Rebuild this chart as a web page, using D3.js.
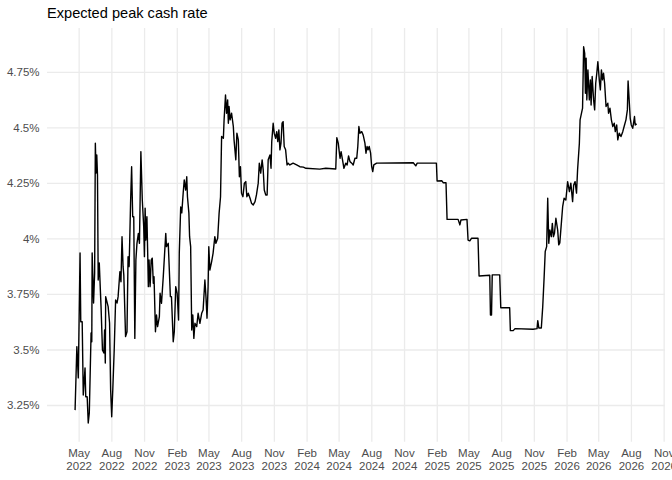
<!DOCTYPE html>
<html>
<head>
<meta charset="utf-8">
<script src="https://cdn.jsdelivr.net/npm/d3@7"></script>
<style>
    body { margin: 0; background: #fff; }
    svg { display: block; font-family: "Liberation Sans", Arial, sans-serif; }
</style>
</head>
<body>
<svg id="chart"></svg>
<script>
const title = "Expected peak cash rate";

const dates = [
    "2022-04-21","2022-04-26","2022-04-30","2022-05-05","2022-05-07","2022-05-11","2022-05-14","2022-05-19","2022-05-21","2022-05-25",
    "2022-05-28","2022-05-31","2022-06-05","2022-06-07","2022-06-08","2022-06-12","2022-06-15","2022-06-17","2022-06-19","2022-06-21",
    "2022-06-23","2022-06-25","2022-06-28","2022-07-03","2022-07-07","2022-07-11","2022-07-13","2022-07-15","2022-07-16","2022-07-23",
    "2022-07-27","2022-07-30","2022-08-02","2022-08-05","2022-08-09","2022-08-13","2022-08-17","2022-08-20","2022-08-25","2022-08-28",
    "2022-08-31","2022-09-03","2022-09-05","2022-09-10","2022-09-14","2022-09-17","2022-09-20","2022-09-24","2022-09-27","2022-09-30",
    "2022-10-03","2022-10-06","2022-10-09","2022-10-12","2022-10-16","2022-10-19","2022-10-23","2022-10-27","2022-10-31","2022-11-02",
    "2022-11-04","2022-11-06","2022-11-09","2022-11-11","2022-11-13","2022-11-15","2022-11-18","2022-11-21","2022-11-24","2022-11-27",
    "2022-11-29","2022-12-03","2022-12-06","2022-12-09","2022-12-14","2022-12-16","2022-12-20","2022-12-25","2023-01-01","2023-01-03",
    "2023-01-08","2023-01-14","2023-01-17","2023-01-22","2023-01-25","2023-01-29","2023-02-02","2023-02-06","2023-02-08","2023-02-12",
    "2023-02-15","2023-02-19","2023-02-22","2023-02-26","2023-03-01","2023-03-03","2023-03-07","2023-03-09","2023-03-12","2023-03-15",
    "2023-03-18","2023-03-21","2023-03-24","2023-03-29","2023-04-02","2023-04-07","2023-04-12","2023-04-16","2023-04-21","2023-04-24",
    "2023-04-27","2023-04-30","2023-05-02","2023-05-05","2023-05-10","2023-05-14","2023-05-19","2023-05-22","2023-05-27","2023-05-31",
    "2023-06-04","2023-06-07","2023-06-12","2023-06-14","2023-06-18","2023-06-21","2023-06-24","2023-06-26","2023-06-28","2023-07-01",
    "2023-07-05","2023-07-10","2023-07-12","2023-07-17","2023-07-20","2023-07-24","2023-07-27","2023-07-30","2023-08-02","2023-08-06",
    "2023-08-10","2023-08-14","2023-08-17","2023-08-21","2023-08-26","2023-08-30","2023-09-04","2023-09-09","2023-09-13","2023-09-18",
    "2023-09-21","2023-09-25","2023-09-29","2023-10-02","2023-10-05","2023-10-09","2023-10-13","2023-10-16","2023-10-21","2023-10-24",
    "2023-10-26","2023-10-30","2023-11-02","2023-11-06","2023-11-09","2023-11-12","2023-11-15","2023-11-18","2023-11-21","2023-11-24",
    "2023-11-27","2023-11-30","2023-12-04","2023-12-08","2023-12-11","2023-12-16","2023-12-25","2024-01-04","2024-01-13","2024-01-23",
    "2024-01-30","2024-03-09","2024-03-26","2024-04-23","2024-04-26","2024-04-30","2024-05-05","2024-05-08","2024-05-12","2024-05-16",
    "2024-05-21","2024-05-25","2024-05-29","2024-06-02","2024-06-07","2024-06-11","2024-06-16","2024-06-21","2024-06-24","2024-06-27",
    "2024-06-30","2024-07-05","2024-07-09","2024-07-14","2024-07-17","2024-07-20","2024-07-23","2024-07-26","2024-07-30","2024-08-02",
    "2024-08-05","2024-08-08","2024-08-16","2024-11-27","2024-12-04","2024-12-08","2025-01-31","2025-02-02","2025-02-15","2025-02-19",
    "2025-02-27","2025-03-02","2025-04-02","2025-04-07","2025-04-10","2025-04-27","2025-04-30","2025-05-05","2025-05-10","2025-05-28",
    "2025-05-31","2025-06-30","2025-07-02","2025-07-05","2025-07-07","2025-07-28","2025-07-31","2025-08-25","2025-08-27","2025-09-04",
    "2025-09-09","2025-10-30","2025-11-10","2025-11-12","2025-11-15","2025-11-22","2025-11-26","2025-11-30","2025-12-03","2025-12-07",
    "2025-12-10","2025-12-13","2025-12-16","2025-12-20","2025-12-23","2025-12-26","2025-12-29","2026-01-02","2026-01-07","2026-01-10",
    "2026-01-13","2026-01-21","2026-01-25","2026-01-30","2026-02-04","2026-02-09","2026-02-13","2026-02-18","2026-02-21","2026-02-25",
    "2026-03-01","2026-03-04","2026-03-09","2026-03-11","2026-03-15","2026-03-18","2026-03-21","2026-03-24","2026-03-26","2026-03-28",
    "2026-03-30","2026-04-02","2026-04-06","2026-04-09","2026-04-11","2026-04-14","2026-04-18","2026-04-21","2026-04-24","2026-04-27",
    "2026-04-30","2026-05-04","2026-05-07","2026-05-10","2026-05-13","2026-05-16","2026-05-19","2026-05-23","2026-05-28","2026-05-30",
    "2026-06-03","2026-06-07","2026-06-11","2026-06-15","2026-06-18","2026-06-22","2026-06-25","2026-06-29","2026-07-04","2026-07-09",
    "2026-07-14","2026-07-18","2026-07-22","2026-07-24","2026-07-27","2026-07-30","2026-08-02","2026-08-06","2026-08-09","2026-08-11",
    "2026-08-13","2026-08-17"
];

const rates = [
    3.227,3.513,3.372,3.935,3.625,3.625,3.295,3.417,3.287,3.287,
    3.169,3.214,3.574,3.535,3.935,3.709,3.845,4.429,4.295,4.376,
    4.286,3.813,3.890,3.693,3.498,3.484,3.588,3.439,3.738,3.693,
    3.619,3.318,3.197,3.318,3.498,3.723,3.709,3.738,3.850,3.805,
    4.008,3.873,3.836,3.558,3.580,3.918,3.873,4.159,4.323,4.098,
    4.098,3.550,3.903,3.978,4.023,3.978,4.391,4.173,4.053,3.918,
    4.136,3.993,4.098,3.948,3.783,3.903,3.783,3.903,3.911,3.798,
    3.828,3.580,3.655,3.603,3.648,3.753,3.708,3.828,4.023,3.963,
    3.978,3.738,3.738,3.535,3.580,3.783,3.753,3.633,3.935,4.142,
    4.115,4.205,4.264,4.218,4.278,4.188,4.114,4.008,3.963,3.588,
    3.655,3.550,3.618,3.603,3.663,3.618,3.663,3.678,3.813,3.738,
    3.641,3.783,3.963,3.858,3.896,3.933,4.008,3.978,4.001,4.114,
    4.188,4.459,4.451,4.534,4.646,4.564,4.624,4.519,4.594,4.534,
    4.564,4.504,4.444,4.354,4.474,4.444,4.278,4.323,4.204,4.188,
    4.249,4.256,4.188,4.204,4.181,4.159,4.151,4.166,4.196,4.249,
    4.339,4.294,4.354,4.309,4.218,4.196,4.196,4.354,4.376,4.316,
    4.436,4.519,4.474,4.451,4.481,4.436,4.489,4.399,4.429,4.519,
    4.526,4.414,4.399,4.331,4.339,4.331,4.339,4.331,4.323,4.321,
    4.316,4.312,4.316,4.313,4.454,4.429,4.361,4.391,4.354,4.316,
    4.339,4.331,4.372,4.346,4.339,4.331,4.361,4.361,4.414,4.504,
    4.474,4.481,4.466,4.429,4.384,4.414,4.399,4.414,4.384,4.323,
    4.301,4.331,4.339,4.341,4.327,4.339,4.339,4.259,4.260,4.251,
    4.251,4.086,4.086,4.061,4.083,4.086,3.993,3.989,4.001,4.001,
    3.831,3.834,3.655,3.655,3.836,3.836,3.688,3.688,3.585,3.585,
    3.594,3.591,3.594,3.630,3.597,3.597,3.693,3.828,3.941,3.963,
    4.181,3.978,4.038,4.008,4.068,4.008,4.023,4.091,4.038,3.971,
    3.980,4.143,4.181,4.173,4.256,4.211,4.249,4.166,4.241,4.256,
    4.204,4.309,4.429,4.534,4.564,4.587,4.863,4.834,4.654,4.812,
    4.624,4.759,4.624,4.714,4.601,4.729,4.624,4.579,4.699,4.744,
    4.796,4.714,4.669,4.759,4.714,4.744,4.699,4.594,4.609,4.564,
    4.587,4.534,4.504,4.519,4.481,4.511,4.444,4.474,4.459,4.481,
    4.511,4.534,4.579,4.709,4.624,4.541,4.511,4.496,4.526,4.549,
    4.511,4.516
];

const yTicks = [3.25, 3.5, 3.75, 4, 4.25, 4.5, 4.75];

const xTicks = [
    "2022-05-01","2022-08-01","2022-11-01","2023-02-01","2023-05-01","2023-08-01","2023-11-01",
    "2024-02-01","2024-05-01","2024-08-01","2024-11-01","2025-02-01","2025-05-01","2025-08-01",
    "2025-11-01","2026-02-01","2026-05-01","2026-08-01","2026-11-01"
];

class LineChart {
    margin = {
        top: 28, right: 7.3, bottom: 38.2, left: 47
    }

    constructor(svg, width = 672, height = 480) {
        this.svg = svg;
        this.width = width;
        this.height = height;
    }

    initialize() {
        this.svg = d3.select(this.svg)
            .attr("width", this.width)
            .attr("height", this.height);
        this.innerWidth = this.width - this.margin.left - this.margin.right;
        this.innerHeight = this.height - this.margin.top - this.margin.bottom;

        this.xAxis = this.svg.append("g");
        this.yAxis = this.svg.append("g");
        this.container = this.svg.append("g")
            .attr("transform", `translate(${this.margin.left}, ${this.margin.top})`);
        this.title = this.svg.append("text");
    }

    update() {
        const parse = d3.timeParse("%Y-%m-%d");
        const data = dates.map((d, i) => ({ date: parse(d), rate: rates[i] }));

        // ggplot style 5% expansion on both axes
        const [x0, x1] = d3.extent(data, d => d.date);
        const xPad = (x1 - x0) * 0.05;
        const [y0, y1] = d3.extent(data, d => d.rate);
        const yPad = (y1 - y0) * 0.05;

        this.xScale = d3.scaleTime()
            .domain([new Date(+x0 - xPad), new Date(+x1 + xPad)])
            .range([0, this.innerWidth]);

        this.yScale = d3.scaleLinear()
            .domain([y0 - yPad, y1 + yPad])
            .range([this.innerHeight, 0]);

        const fmtMonth = d3.timeFormat("%b");
        const fmtYear = d3.timeFormat("%Y");

        this.xAxis
            .attr("transform", `translate(${this.margin.left}, ${this.margin.top + this.innerHeight})`)
            .call(d3.axisBottom(this.xScale)
                .tickValues(xTicks.map(parse))
                .tickSize(-this.innerHeight)
                .tickPadding(7.5))
            .call(g => g.select(".domain").remove())
            .call(g => g.selectAll(".tick line").attr("stroke", "#EBEBEB").attr("stroke-width", 1.3))
            .call(g => g.selectAll(".tick text")
                .attr("fill", "#4D4D4D")
                .attr("font-size", 11.5)
                .attr("font-family", "Liberation Sans, Arial, sans-serif")
                .text(null)
                .each(function(d) {
                    const t = d3.select(this);
                    t.append("tspan").attr("x", 0).text(fmtMonth(d));
                    t.append("tspan").attr("x", 0).attr("dy", "1.1em").text(fmtYear(d));
                }));

        this.yAxis
            .attr("transform", `translate(${this.margin.left}, ${this.margin.top})`)
            .call(d3.axisLeft(this.yScale)
                .tickValues(yTicks)
                .tickFormat(d => `${d}%`)
                .tickSize(-this.innerWidth)
                .tickPadding(7.5))
            .call(g => g.select(".domain").remove())
            .call(g => g.selectAll(".tick line").attr("stroke", "#EBEBEB").attr("stroke-width", 1.3))
            .call(g => g.selectAll(".tick text")
                .attr("fill", "#4D4D4D")
                .attr("font-size", 11.5)
                .attr("font-family", "Liberation Sans, Arial, sans-serif"));

        const line = d3.line()
            .x(d => this.xScale(d.date))
            .y(d => this.yScale(d.rate));

        this.container.append("path")
            .datum(data)
            .attr("fill", "none")
            .attr("stroke", "#000")
            .attr("stroke-width", 1.4)
            .attr("stroke-linejoin", "round")
            .attr("d", line);

        this.title
            .attr("x", this.margin.left)
            .attr("y", 18.3)
            .attr("font-size", 14.6)
            .attr("fill", "#000")
            .text(title);
    }
}

const chart = new LineChart(document.getElementById("chart"));
chart.initialize();
chart.update();
</script>
</body>
</html>
